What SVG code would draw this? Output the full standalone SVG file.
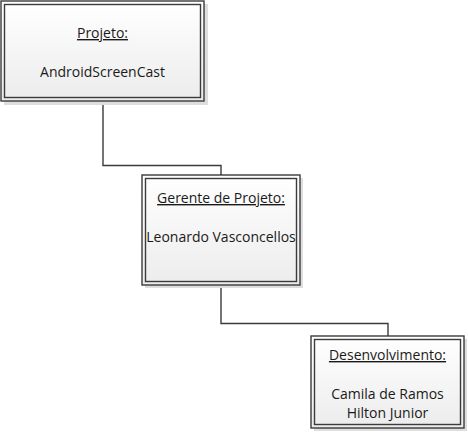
<svg xmlns="http://www.w3.org/2000/svg" width="468" height="434" viewBox="0 0 468 434">
<defs>
<linearGradient id="g" x1="0" y1="0" x2="0" y2="1">
<stop offset="0" stop-color="#ffffff"/>
<stop offset="1" stop-color="#ececec"/>
</linearGradient>
<style>
.sh{fill:#dedede;}
.bx{fill:url(#g);stroke:#3b3b3b;stroke-width:1.4;}
.in{fill:none;stroke:#3b3b3b;stroke-width:1.4;}
.t{font-family:"Open Sans","Liberation Sans",sans-serif;font-size:14px;fill:#1a1a1a;text-anchor:middle;}
.u{text-decoration:underline;}
.c{fill:none;stroke:#3b3b3b;stroke-width:1.4;}
</style>
</defs>
<rect width="468" height="434" fill="#ffffff"/>
<g id="connectors">
<polyline class="c" points="103,101 103,165.5 221,165.5 221,175"/>
<polyline class="c" points="221,285 221,323.5 388,323.5 388,336"/>
</g>
<g id="projeto">
<rect class="sh" x="4" y="4" width="204" height="101"/>
<rect class="bx" x="1" y="1" width="203" height="100"/>
<rect class="in" x="4.5" y="4.5" width="196" height="93"/>
<text class="t u" x="102.5" y="38">Projeto:</text>
<text class="t" x="102.5" y="77">AndroidScreenCast</text>
</g>
<g id="gerente">
<rect class="sh" x="145" y="178" width="158" height="110"/>
<rect class="bx" x="142" y="175" width="158" height="110"/>
<rect class="in" x="145.5" y="178.5" width="151" height="103"/>
<text class="t u" x="221" y="203">Gerente de Projeto:</text>
<text class="t" x="221" y="242">Leonardo Vasconcellos</text>
</g>
<g id="desenvolvimento">
<rect class="sh" x="314" y="339" width="153" height="92"/>
<rect class="bx" x="311" y="336" width="153" height="92"/>
<rect class="in" x="314.5" y="339.5" width="146" height="85"/>
<text class="t u" x="387.5" y="360">Desenvolvimento:</text>
<text class="t" x="387.5" y="399">Camila de Ramos</text>
<text class="t" x="387.5" y="418">Hilton Junior</text>
</g>
</svg>
